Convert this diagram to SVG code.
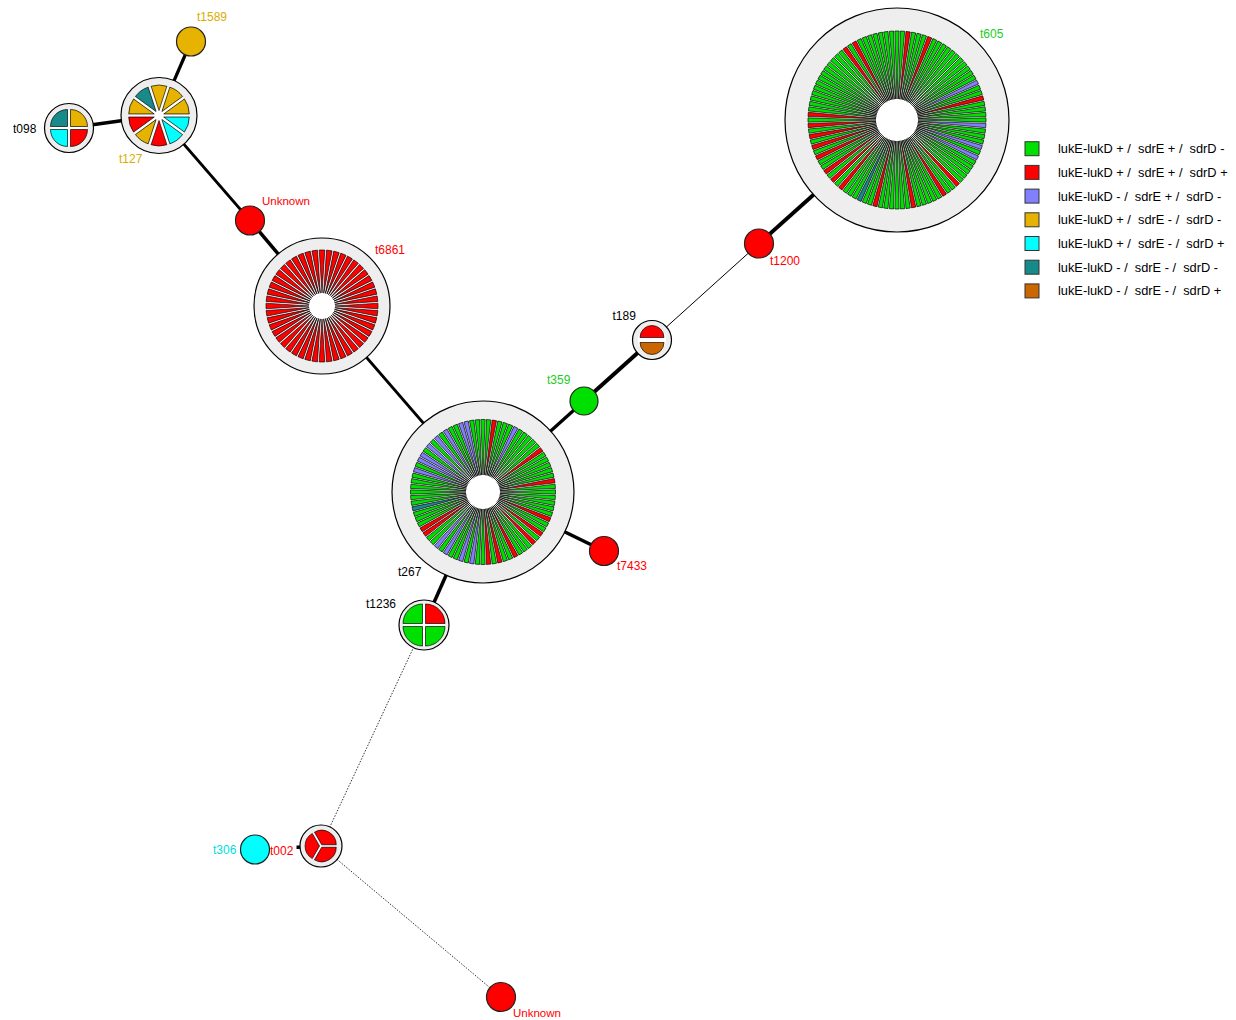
<svg xmlns="http://www.w3.org/2000/svg" width="1236" height="1020" viewBox="0 0 1236 1020">
<style>
.ring{fill:#eeeeee;stroke:#000;stroke-width:1.2}
.hole{fill:#fff}
.n{stroke:#222;stroke-width:1.2}
.g{fill:#00e000}.r{fill:#ff0000}.b{fill:#8080ff}.t{fill:#178a8a}.y{fill:#e5b300}.c{fill:#00ffff}.o{fill:#cc6600}
.w{stroke:#000;stroke-width:0.65}
text{font-family:"Liberation Sans",Arial,sans-serif;font-size:12px}
.lr{fill:#ff0000}.lg{fill:#22cc22}.ly{fill:#d9ad00}.lc{fill:#00dddd}.lk{fill:#000}
.e{stroke:#000;fill:none}
.dot{stroke:#333;stroke-width:1;stroke-dasharray:1.5,1.5;fill:none}
.leg text{font-size:12.8px;fill:#000;white-space:pre}
.sq{stroke:#333;stroke-width:1}
</style>
<defs>
<path id="a" class="w" d="M21,0 L88.97,-2.14 A68,68 0 0 1 88.97,2.14 Z"/>
<path id="b" class="w" d="M17,0 L72.46,-2.18 A55.5,55.5 0 0 1 72.46,2.18 Z"/>
<path id="c" class="w" d="M13,0 L55.91,-2.81 A43,43 0 0 1 55.91,2.81 Z"/>
<path id="d" class="w" d="M5,0 L29.25,-7.88 A25.5,25.5 0 0 1 29.25,7.88 Z"/>
<path id="q1" class="w" d="M2.1,0 L14.12,-12.02 A17,17 0 0 1 14.12,12.02 Z"/>
<path id="q2" class="w" d="M2.1,0 L15.89,-13.79 A19.5,19.5 0 0 1 15.89,13.79 Z"/>
<path id="f" class="w" d="M2.5,0 L2.5,-12 A12,12 0 0 1 2.5,12 Z"/>
<path id="h" class="w" d="M1.44,0 L8.69,-12.56 A14.5,14.5 0 0 1 8.69,12.56 Z"/>
</defs>

<g id="connectors">
<line class="e" x1="191" y1="41.5" x2="159" y2="115.5" stroke-width="3.2"/>
<line class="e" x1="69" y1="128" x2="159" y2="115.5" stroke-width="3.5"/>
<line class="e" x1="159" y1="115.5" x2="250" y2="220.5" stroke-width="2.7"/>
<line class="e" x1="250" y1="220.5" x2="322" y2="306" stroke-width="3.5"/>
<line class="e" x1="322" y1="306" x2="483" y2="492" stroke-width="2.7"/>
<line class="e" x1="483" y1="492" x2="584" y2="401" stroke-width="3.2"/>
<line class="e" x1="584" y1="401" x2="652" y2="340" stroke-width="4"/>
<line class="e" x1="652" y1="340" x2="759" y2="243.5" stroke-width="1"/>
<line class="e" x1="759" y1="243.5" x2="897" y2="120" stroke-width="4"/>
<line class="e" x1="483" y1="492" x2="604" y2="551" stroke-width="3.5"/>
<line class="e" x1="483" y1="492" x2="424" y2="625" stroke-width="3.5"/>
<line class="dot" x1="424" y1="625" x2="321" y2="846"/>
<line class="e" x1="321" y1="846" x2="255" y2="849.5" stroke-width="3.5"/>
<line class="dot" x1="321" y1="846" x2="501" y2="997"/>
</g>

<g id="t1589">
<circle class="n y" cx="191" cy="41.5" r="14.5"/>
<text class="ly" x="197" y="21">t1589</text>
</g>

<g id="t127">
<circle class="ring" cx="159" cy="115.5" r="38"/>
<circle class="hole" cx="159" cy="115.5" r="29.5"/>
<g transform="translate(159,115.5)">
<use href="#d" class="c" transform="rotate(18)"/>
<use href="#d" class="c" transform="rotate(54)"/>
<use href="#d" class="r" transform="rotate(90)"/>
<use href="#d" class="y" transform="rotate(126)"/>
<use href="#d" class="r" transform="rotate(162)"/>
<use href="#d" class="y" transform="rotate(198)"/>
<use href="#d" class="t" transform="rotate(234)"/>
<use href="#d" class="y" transform="rotate(270)"/>
<use href="#d" class="y" transform="rotate(306)"/>
<use href="#d" class="y" transform="rotate(342)"/>
</g>
<text class="ly" x="119" y="163">t127</text>
</g>

<g id="t098">
<circle class="ring" cx="69" cy="128" r="24.5"/>
<circle class="hole" cx="69" cy="128" r="18"/>
<g transform="translate(69,128)">
<use href="#q1" class="r" transform="rotate(45)"/>
<use href="#q1" class="c" transform="rotate(135)"/>
<use href="#q1" class="t" transform="rotate(225)"/>
<use href="#q1" class="y" transform="rotate(315)"/>
</g>
<text class="lk" x="13" y="133">t098</text>
</g>

<g id="unknown1">
<circle class="n r" cx="250" cy="220.5" r="14.5"/>
<text class="lr" x="262" y="204.5" style="font-size:11.5px">Unknown</text>
</g>

<g id="t6861">
<circle class="ring" cx="322" cy="306" r="68"/>
<circle class="hole" cx="322" cy="306" r="55"/>
<g transform="translate(322,306)" class="r">
<use href="#c" transform="rotate(0)"/><use href="#c" transform="rotate(7.5)"/><use href="#c" transform="rotate(15)"/><use href="#c" transform="rotate(22.5)"/><use href="#c" transform="rotate(30)"/><use href="#c" transform="rotate(37.5)"/><use href="#c" transform="rotate(45)"/><use href="#c" transform="rotate(52.5)"/><use href="#c" transform="rotate(60)"/><use href="#c" transform="rotate(67.5)"/><use href="#c" transform="rotate(75)"/><use href="#c" transform="rotate(82.5)"/>
<use href="#c" transform="rotate(90)"/><use href="#c" transform="rotate(97.5)"/><use href="#c" transform="rotate(105)"/><use href="#c" transform="rotate(112.5)"/><use href="#c" transform="rotate(120)"/><use href="#c" transform="rotate(127.5)"/><use href="#c" transform="rotate(135)"/><use href="#c" transform="rotate(142.5)"/><use href="#c" transform="rotate(150)"/><use href="#c" transform="rotate(157.5)"/><use href="#c" transform="rotate(165)"/><use href="#c" transform="rotate(172.5)"/>
<use href="#c" transform="rotate(180)"/><use href="#c" transform="rotate(187.5)"/><use href="#c" transform="rotate(195)"/><use href="#c" transform="rotate(202.5)"/><use href="#c" transform="rotate(210)"/><use href="#c" transform="rotate(217.5)"/><use href="#c" transform="rotate(225)"/><use href="#c" transform="rotate(232.5)"/><use href="#c" transform="rotate(240)"/><use href="#c" transform="rotate(247.5)"/><use href="#c" transform="rotate(255)"/><use href="#c" transform="rotate(262.5)"/>
<use href="#c" transform="rotate(270)"/><use href="#c" transform="rotate(277.5)"/><use href="#c" transform="rotate(285)"/><use href="#c" transform="rotate(292.5)"/><use href="#c" transform="rotate(300)"/><use href="#c" transform="rotate(307.5)"/><use href="#c" transform="rotate(315)"/><use href="#c" transform="rotate(322.5)"/><use href="#c" transform="rotate(330)"/><use href="#c" transform="rotate(337.5)"/><use href="#c" transform="rotate(345)"/><use href="#c" transform="rotate(352.5)"/>
</g>
<text class="lr" x="375" y="254">t6861</text>
</g>

<g id="t267">
<circle class="ring" cx="483" cy="492" r="91"/>
<circle class="hole" cx="483" cy="492" r="71.5"/>
<g transform="translate(483,492)" class="g">
<use href="#b" transform="rotate(0)"/><use href="#b" transform="rotate(4.5)"/><use href="#b" transform="rotate(9)"/><use href="#b" transform="rotate(13.5)"/><use href="#b" transform="rotate(18)"/><use href="#b" class="r" transform="rotate(22.5)"/><use href="#b" transform="rotate(27)"/><use href="#b" transform="rotate(31.5)"/><use href="#b" class="r" transform="rotate(36)"/><use href="#b" transform="rotate(40.5)"/>
<use href="#b" class="r" transform="rotate(45)"/><use href="#b" transform="rotate(49.5)"/><use href="#b" transform="rotate(54)"/><use href="#b" transform="rotate(58.5)"/><use href="#b" class="r" transform="rotate(63)"/><use href="#b" transform="rotate(67.5)"/><use href="#b" transform="rotate(72)"/><use href="#b" class="r" transform="rotate(76.5)"/><use href="#b" transform="rotate(81)"/><use href="#b" class="r" transform="rotate(85.5)"/>
<use href="#b" transform="rotate(90)"/><use href="#b" transform="rotate(94.5)"/><use href="#b" class="b" transform="rotate(99)"/><use href="#b" transform="rotate(103.5)"/><use href="#b" class="b" transform="rotate(108)"/><use href="#b" transform="rotate(112.5)"/><use href="#b" transform="rotate(117)"/><use href="#b" class="b" transform="rotate(121.5)"/><use href="#b" transform="rotate(126)"/><use href="#b" class="b" transform="rotate(130.5)"/>
<use href="#b" transform="rotate(135)"/><use href="#b" transform="rotate(139.5)"/><use href="#b" class="r" transform="rotate(144)"/><use href="#b" class="r" transform="rotate(148.5)"/><use href="#b" transform="rotate(153)"/><use href="#b" transform="rotate(157.5)"/><use href="#b" transform="rotate(162)"/><use href="#b" class="t" transform="rotate(166.5)"/><use href="#b" transform="rotate(171)"/><use href="#b" transform="rotate(175.5)"/>
<use href="#b" transform="rotate(180)"/><use href="#b" transform="rotate(184.5)"/><use href="#b" transform="rotate(189)"/><use href="#b" transform="rotate(193.5)"/><use href="#b" class="b" transform="rotate(198)"/><use href="#b" transform="rotate(202.5)"/><use href="#b" class="b" transform="rotate(207)"/><use href="#b" class="b" transform="rotate(211.5)"/><use href="#b" transform="rotate(216)"/><use href="#b" class="b" transform="rotate(220.5)"/>
<use href="#b" transform="rotate(225)"/><use href="#b" class="b" transform="rotate(229.5)"/><use href="#b" transform="rotate(234)"/><use href="#b" class="b" transform="rotate(238.5)"/><use href="#b" transform="rotate(243)"/><use href="#b" transform="rotate(247.5)"/><use href="#b" class="b" transform="rotate(252)"/><use href="#b" class="b" transform="rotate(256.5)"/><use href="#b" transform="rotate(261)"/><use href="#b" transform="rotate(265.5)"/>
<use href="#b" transform="rotate(270)"/><use href="#b" transform="rotate(274.5)"/><use href="#b" class="r" transform="rotate(279)"/><use href="#b" transform="rotate(283.5)"/><use href="#b" transform="rotate(288)"/><use href="#b" transform="rotate(292.5)"/><use href="#b" class="b" transform="rotate(297)"/><use href="#b" transform="rotate(301.5)"/><use href="#b" transform="rotate(306)"/><use href="#b" transform="rotate(310.5)"/>
<use href="#b" transform="rotate(315)"/><use href="#b" transform="rotate(319.5)"/><use href="#b" class="r" transform="rotate(324)"/><use href="#b" transform="rotate(328.5)"/><use href="#b" transform="rotate(333)"/><use href="#b" transform="rotate(337.5)"/><use href="#b" transform="rotate(342)"/><use href="#b" transform="rotate(346.5)"/><use href="#b" class="r" transform="rotate(351)"/><use href="#b" transform="rotate(355.5)"/>
</g>
<text class="lk" x="398" y="575.5">t267</text>
</g>

<g id="t359">
<circle class="n g" cx="584" cy="401" r="14"/>
<text class="lg" x="547" y="383.5">t359</text>
</g>

<g id="t189">
<circle class="ring" cx="652" cy="340" r="19.5"/>
<circle class="hole" cx="652" cy="340" r="14"/>
<g transform="translate(652,340)">
<use href="#f" class="r" transform="rotate(270)"/>
<use href="#f" class="o" transform="rotate(90)"/>
</g>
<text class="lk" x="612.5" y="319.5">t189</text>
</g>

<g id="t1200">
<circle class="n r" cx="759" cy="243.5" r="14.5"/>
<text class="lr" x="770" y="265">t1200</text>
</g>

<g id="t605">
<circle class="ring" cx="897" cy="120" r="112"/>
<circle class="hole" cx="897" cy="120" r="88"/>
<g transform="translate(897,120)" class="g">
<use href="#a" transform="rotate(0)"/><use href="#a" class="b" transform="rotate(3.6)"/><use href="#a" transform="rotate(7.2)"/><use href="#a" transform="rotate(10.8)"/><use href="#a" transform="rotate(14.4)"/><use href="#a" class="b" transform="rotate(18)"/><use href="#a" transform="rotate(21.6)"/><use href="#a" class="b" transform="rotate(25.2)"/><use href="#a" transform="rotate(28.8)"/><use href="#a" transform="rotate(32.4)"/>
<use href="#a" transform="rotate(36)"/><use href="#a" transform="rotate(39.6)"/><use href="#a" transform="rotate(43.2)"/><use href="#a" class="r" transform="rotate(46.8)"/><use href="#a" transform="rotate(50.4)"/><use href="#a" transform="rotate(54)"/><use href="#a" class="r" transform="rotate(57.6)"/><use href="#a" transform="rotate(61.2)"/><use href="#a" transform="rotate(64.8)"/><use href="#a" transform="rotate(68.4)"/>
<use href="#a" transform="rotate(72)"/><use href="#a" transform="rotate(75.6)"/><use href="#a" class="r" transform="rotate(79.2)"/><use href="#a" transform="rotate(82.8)"/><use href="#a" transform="rotate(86.4)"/><use href="#a" transform="rotate(90)"/><use href="#a" transform="rotate(93.6)"/><use href="#a" transform="rotate(97.2)"/><use href="#a" transform="rotate(100.8)"/><use href="#a" class="r" transform="rotate(104.4)"/>
<use href="#a" transform="rotate(108)"/><use href="#a" transform="rotate(111.6)"/><use href="#a" class="t" transform="rotate(115.2)"/><use href="#a" transform="rotate(118.8)"/><use href="#a" transform="rotate(122.4)"/><use href="#a" transform="rotate(126)"/><use href="#a" class="r" transform="rotate(129.6)"/><use href="#a" transform="rotate(133.2)"/><use href="#a" class="r" transform="rotate(136.8)"/><use href="#a" transform="rotate(140.4)"/>
<use href="#a" class="r" transform="rotate(144)"/><use href="#a" transform="rotate(147.6)"/><use href="#a" transform="rotate(151.2)"/><use href="#a" class="r" transform="rotate(154.8)"/><use href="#a" transform="rotate(158.4)"/><use href="#a" class="r" transform="rotate(162)"/><use href="#a" transform="rotate(165.6)"/><use href="#a" class="r" transform="rotate(169.2)"/><use href="#a" transform="rotate(172.8)"/><use href="#a" class="r" transform="rotate(176.4)"/>
<use href="#a" transform="rotate(180)"/><use href="#a" class="r" transform="rotate(183.6)"/><use href="#a" transform="rotate(187.2)"/><use href="#a" transform="rotate(190.8)"/><use href="#a" transform="rotate(194.4)"/><use href="#a" transform="rotate(198)"/><use href="#a" transform="rotate(201.6)"/><use href="#a" transform="rotate(205.2)"/><use href="#a" transform="rotate(208.8)"/><use href="#a" transform="rotate(212.4)"/>
<use href="#a" transform="rotate(216)"/><use href="#a" transform="rotate(219.6)"/><use href="#a" transform="rotate(223.2)"/><use href="#a" transform="rotate(226.8)"/><use href="#a" transform="rotate(230.4)"/><use href="#a" class="r" transform="rotate(234)"/><use href="#a" transform="rotate(237.6)"/><use href="#a" class="r" transform="rotate(241.2)"/><use href="#a" transform="rotate(244.8)"/><use href="#a" transform="rotate(248.4)"/>
<use href="#a" transform="rotate(252)"/><use href="#a" transform="rotate(255.6)"/><use href="#a" transform="rotate(259.2)"/><use href="#a" transform="rotate(262.8)"/><use href="#a" transform="rotate(266.4)"/><use href="#a" transform="rotate(270)"/><use href="#a" transform="rotate(273.6)"/><use href="#a" class="r" transform="rotate(277.2)"/><use href="#a" transform="rotate(280.8)"/><use href="#a" transform="rotate(284.4)"/>
<use href="#a" transform="rotate(288)"/><use href="#a" class="r" transform="rotate(291.6)"/><use href="#a" transform="rotate(295.2)"/><use href="#a" transform="rotate(298.8)"/><use href="#a" transform="rotate(302.4)"/><use href="#a" transform="rotate(306)"/><use href="#a" transform="rotate(309.6)"/><use href="#a" transform="rotate(313.2)"/><use href="#a" transform="rotate(316.8)"/><use href="#a" transform="rotate(320.4)"/>
<use href="#a" transform="rotate(324)"/><use href="#a" transform="rotate(327.6)"/><use href="#a" transform="rotate(331.2)"/><use href="#a" class="b" transform="rotate(334.8)"/><use href="#a" transform="rotate(338.4)"/><use href="#a" transform="rotate(342)"/><use href="#a" class="r" transform="rotate(345.6)"/><use href="#a" transform="rotate(349.2)"/><use href="#a" transform="rotate(352.8)"/><use href="#a" transform="rotate(356.4)"/>
</g>
<text class="lg" x="980" y="38">t605</text>
</g>

<g id="t7433">
<circle class="n r" cx="604" cy="551" r="14.5"/>
<text class="lr" x="617" y="570">t7433</text>
</g>

<g id="t1236">
<circle class="ring" cx="424" cy="625" r="25"/>
<circle class="hole" cx="424" cy="625" r="20.5"/>
<g transform="translate(424,625)">
<use href="#q2" class="g" transform="rotate(45)"/>
<use href="#q2" class="g" transform="rotate(135)"/>
<use href="#q2" class="g" transform="rotate(225)"/>
<use href="#q2" class="r" transform="rotate(315)"/>
</g>
<text class="lk" x="366" y="608">t1236</text>
</g>

<g id="t002">
<circle class="ring" cx="321" cy="846" r="21"/>
<circle class="hole" cx="321" cy="846" r="15"/>
<g transform="translate(321,846)" class="r">
<use href="#h" transform="rotate(60)"/>
<use href="#h" transform="rotate(180)"/>
<use href="#h" transform="rotate(300)"/>
</g>
<rect x="269.5" y="842" width="27" height="15" fill="#fff"/>
<text class="lr" x="270" y="855">t002</text>
</g>

<g id="t306">
<circle class="n c" cx="255" cy="849.5" r="14.5"/>
<text class="lc" x="213" y="853.5">t306</text>
</g>

<g id="unknown2">
<circle class="n r" cx="501" cy="997" r="14.5"/>
<text class="lr" x="513" y="1017" style="font-size:11.5px">Unknown</text>
</g>

<g id="legend" class="leg">
<rect class="sq g" x="1025" y="141.7" width="14" height="14"/>
<text x="1058" y="153.2">lukE-lukD + /  sdrE + /  sdrD -</text>
<rect class="sq r" x="1025" y="165.4" width="14" height="14"/>
<text x="1058" y="176.9">lukE-lukD + /  sdrE + /  sdrD +</text>
<rect class="sq b" x="1025" y="189.1" width="14" height="14"/>
<text x="1058" y="200.6">lukE-lukD - /  sdrE + /  sdrD -</text>
<rect class="sq y" x="1025" y="212.8" width="14" height="14"/>
<text x="1058" y="224.3">lukE-lukD + /  sdrE - /  sdrD -</text>
<rect class="sq c" x="1025" y="236.5" width="14" height="14"/>
<text x="1058" y="248">lukE-lukD + /  sdrE - /  sdrD +</text>
<rect class="sq t" x="1025" y="260.2" width="14" height="14"/>
<text x="1058" y="271.7">lukE-lukD - /  sdrE - /  sdrD -</text>
<rect class="sq o" x="1025" y="283.9" width="14" height="14"/>
<text x="1058" y="295.4">lukE-lukD - /  sdrE - /  sdrD +</text>
</g>
</svg>
